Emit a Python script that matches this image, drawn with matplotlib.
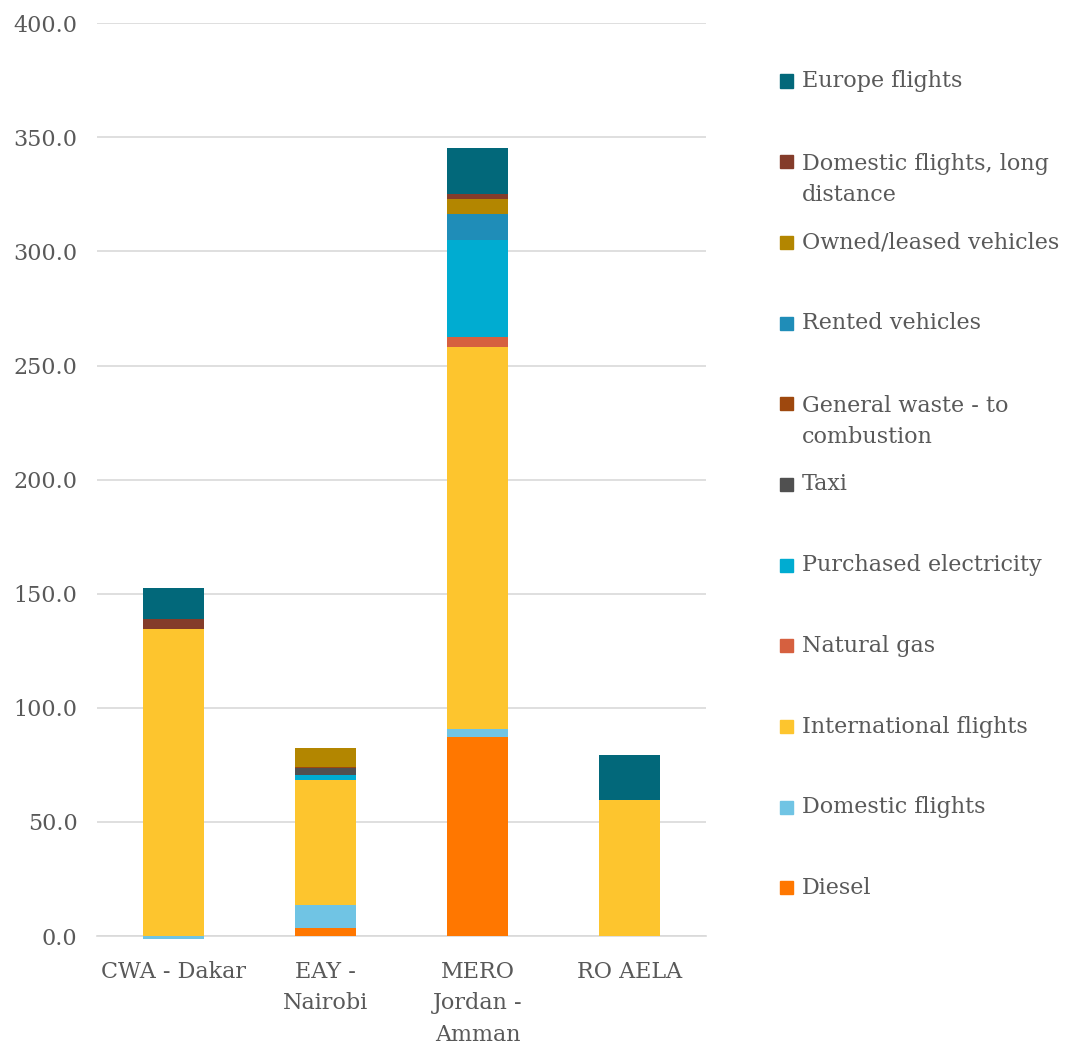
import matplotlib.pyplot as plt
import numpy as np
from matplotlib.patches import Rectangle

plt.rcParams['font.family'] = ['DejaVu Serif']

offices = ["CWA - Dakar", "EAY -\nNairobi", "MERO\nJordan -\nAmman", "RO AELA"]

# stacking order, bottom to top
series = ["Diesel", "Domestic flights", "International flights", "Natural gas",
          "Purchased electricity", "Taxi", "General waste - to\ncombustion",
          "Rented vehicles", "Owned/leased vehicles",
          "Domestic flights, long\ndistance", "Europe flights"]
colors = ["#FF7700", "#70C4E4", "#FDC52E", "#D6603F", "#00ACD1", "#505050",
          "#9E480E", "#1F8DB8", "#B38600", "#843C2A", "#02687A"]

diesel = [0.0, 3.5, 87.3, 0.0]
domestic = [-1.2, 10.1, 3.4, 0.0]
international = [134.5, 54.7, 167.5, 59.7]
natural_gas = [0.0, 0.0, 4.3, 0.0]
electricity = [0.0, 2.3, 42.4, 0.0]
taxi = [0.0, 2.9, 0.0, 0.0]
waste = [0.0, 0.5, 0.0, 0.0]
rented = [0.0, 0.0, 11.6, 0.0]
owned = [0.0, 8.6, 6.4, 0.0]
domestic_long = [4.4, 0.0, 2.1, 0.0]
europe = [13.6, 0.0, 20.2, 19.6]

values = [diesel, domestic, international, natural_gas, electricity, taxi,
          waste, rented, owned, domestic_long, europe]

fig = plt.figure(figsize=(10.66, 10.53), dpi=100)
ax = fig.add_axes([0.091, 0.111, 0.571, 0.867])

x = np.arange(len(offices))
pos_base = np.zeros(len(offices))
neg_base = np.zeros(len(offices))
for vals, col in zip(values, colors):
    v = np.array(vals)
    b = np.where(v >= 0, pos_base, neg_base)
    ax.bar(x, v, 0.4, bottom=b, color=col, zorder=3, clip_on=False)
    pos_base += np.where(v >= 0, v, 0)
    neg_base += np.where(v < 0, v, 0)

ax.set_xlim(-0.5, 3.5)
ax.set_ylim(0, 400)
ax.set_yticks(np.arange(0, 401, 50))
ax.set_yticklabels([f"{t:.1f}" for t in np.arange(0, 401, 50)])
ax.set_xticks(x)
ax.set_xticklabels(offices, linespacing=1.55)
ax.tick_params(length=0, labelsize=16, colors="#595959")
ax.tick_params(axis="x", pad=18)
ax.tick_params(axis="y", pad=14)
ax.grid(axis="y", color="#D9D9D9", linewidth=1.2, zorder=0)
for s in ["top", "right", "left"]:
    ax.spines[s].set_visible(False)
ax.spines["bottom"].set_color("#D9D9D9")
ax.spines["bottom"].set_linewidth(1.2)
ax.spines["bottom"].set_zorder(2)

# legend, reversed order, evenly spaced slots
y0 = 1 - 81 / 1053
step = 80.7 / 1053
for i, (lab, col) in enumerate(zip(series[::-1], colors[::-1])):
    yy = y0 - i * step
    fig.patches.append(Rectangle((780 / 1066, yy - 6.5 / 1053), 13 / 1066, 13 / 1053,
                                 transform=fig.transFigure, color=col))
    if "\n" in lab:
        fig.text(802 / 1066, yy + 9 / 1053, lab, fontsize=16, color="#595959", va="top",
                 linespacing=1.55, transform=fig.transFigure)
    else:
        fig.text(802 / 1066, yy, lab, fontsize=16, color="#595959", va="center",
                 transform=fig.transFigure)

fig.savefig("out.png")
